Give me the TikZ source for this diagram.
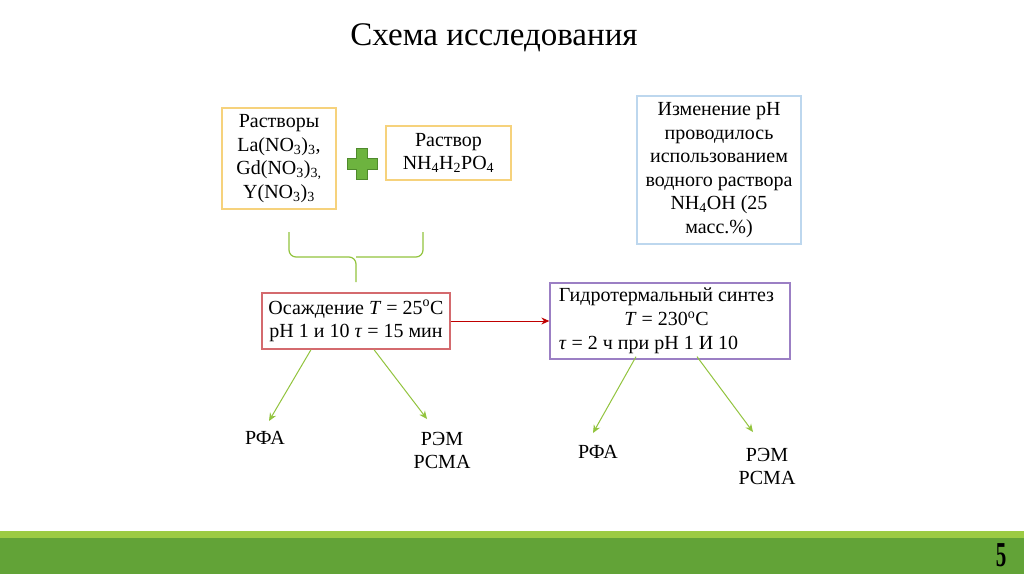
\documentclass[tikz,border=0pt]{standalone}
\usepackage{fontspec}
\setmainfont{Liberation Serif}
\usetikzlibrary{arrows.meta,calc}
\definecolor{goldb}{HTML}{F6D27C}
\definecolor{blueb}{HTML}{BDD7EE}
\definecolor{redb}{HTML}{D46A6E}
\definecolor{purpb}{HTML}{9B7FC4}
\definecolor{garr}{HTML}{92C43E}
\definecolor{darr}{HTML}{C00000}
\definecolor{lgreen}{HTML}{9CCB43}
\definecolor{dgreen}{HTML}{62A337}
\definecolor{plusf}{HTML}{6DB33F}
\definecolor{pluse}{HTML}{4F8A2C}
\tikzset{
  box/.style={draw, line width=1.3pt, inner sep=0pt, align=center, font=\fontsize{20}{23.5}\selectfont},
  lbl/.style={align=center, inner sep=0pt, font=\fontsize{20}{23}\selectfont},
  garrow/.style={draw=garr, line width=1pt, -{Stealth[length=8pt,width=7pt]}},
}
\begin{document}
\begin{tikzpicture}[x=1pt,y=-1pt]
\useasboundingbox (0,0) rectangle (1024,574);
\fill[white] (0,0) rectangle (1024,574);
% bottom bars
\fill[lgreen] (0,530.5) rectangle (1024,538);
\fill[dgreen] (0,538) rectangle (1024,574);
\node[inner sep=0pt, font=\bfseries\fontsize{35}{35}\selectfont] (pnum) at (1001,555) {\scalebox{0.6}[1]{5}};
% title
\node[inner sep=0pt, font=\fontsize{33}{33}\selectfont] (title) at (494,38) {Схема исследования};
% boxes
\node[box, draw=goldb, minimum width=114pt, minimum height=101pt] (b1) at (279,158.5)
  {Растворы\\La(NO\textsubscript{3})\textsubscript{3},\\Gd(NO\textsubscript{3})\textsubscript{3,}\\Y(NO\textsubscript{3})\textsubscript{3}};
\node[box, draw=goldb, minimum width=125pt, minimum height=54pt] (b2) at (448.5,153)
  {Раствор\\NH\textsubscript{4}H\textsubscript{2}PO\textsubscript{4}};
\node[box, draw=blueb, minimum width=164pt, minimum height=148pt] (b3) at (719,170)
  {Изменение pH\\проводилось\\использованием\\водного раствора\\NH\textsubscript{4}OH (25\\масс.\%)};
\node[box, draw=redb, minimum width=188pt, minimum height=56pt] (b4) at (356,321)
  {Осаждение \textit{T} = 25\textsuperscript{o}C\\pH 1 и 10 \textit{τ} = 15 мин};
\node[box, draw=purpb, minimum width=240pt, minimum height=76pt] (b5) at (670,321)
  {\hspace*{5pt}\begin{tabular}{@{}l@{}}Гидротермальный синтез\\[0.5pt]
   \multicolumn{1}{@{}c@{}}{\textit{T} = 230\textsuperscript{o}C}\\[0.5pt]
   \textit{τ} = 2 ч при pH 1 И 10\end{tabular}\hspace*{12pt}};
% plus sign
\filldraw[fill=plusf, draw=pluse, line width=0.8pt]
  (356.5,148.5) -- (367.5,148.5) -- (367.5,158.5) -- (377,158.5) -- (377,169.5) -- (367.5,169.5) -- (367.5,179.5)
  -- (356.5,179.5) -- (356.5,169.5) -- (347,169.5) -- (347,158.5) -- (356.5,158.5) -- cycle;
% brace
\draw[garr, line width=1.2pt, rounded corners=7pt]
  (289,232) -- (289,257) -- (356,257) -- (356,282);
\draw[garr, line width=1.2pt, rounded corners=7pt]
  (423,232) -- (423,257) -- (356,257);
% red arrow
\draw[draw=darr, line width=1pt, -{Stealth[length=8pt,width=7pt]}] (b4.east) -- (b5.west);
% result labels
\node[lbl] (r1) at (265,438) {РФА};
\node[lbl] (r2) at (442,450) {РЭМ\\РСМА};
\node[lbl] (r3) at (598,452) {РФА};
\node[lbl] (r4) at (767,466) {РЭМ\\РСМА};
\coordinate (a1) at (269,421);
\coordinate (a2) at (427,419);
\coordinate (a3) at (593,433);
\coordinate (a4) at (753,432);
\draw[garrow] ([xshift=-45pt]b4.south) -- (a1);
\draw[garrow] ([xshift=18pt]b4.south) -- (a2);
\draw[garrow] ([xshift=-34pt,yshift=3pt]b5.south) -- (a3);
\draw[garrow] ([xshift=27pt,yshift=3pt]b5.south) -- (a4);
\end{tikzpicture}
\end{document}
